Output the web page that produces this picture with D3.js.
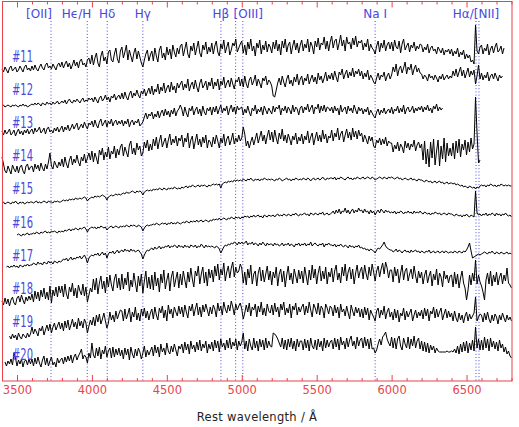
<!DOCTYPE html>
<html>
<head>
<meta charset="utf-8">
<script src="https://cdn.jsdelivr.net/npm/d3@7"></script>
<style>
  html, body { margin: 0; padding: 0; background: #fff; }
  svg { display: block; }
</style>
</head>
<body>
<div id="chart"></div>
<script>
const waveStep = 10
const spectrumNames = ['#11', '#12', '#13', '#14', '#15', '#16', '#17', '#18', '#19', '#20']
const startWave = [3400, 3400, 3400, 3400, 3400, 3500, 3430, 3400, 3450, 3420]
const fluxOffset = [311, 275, 248, 213, 178, 146, 114, 79, 44, 18]

const flux11 = [
  1,-2,3,0,-3,2,4,-1,1,3,-2,0,4,1,-2,3,5,0,2,-1,
  4,0,5,1,-1,3,6,2,0,5,7,2,4,1,6,3,0,5,7,3,
  8,2,6,9,3,7,1,5,10,4,8,2,9,11,5,7,3,10,12,6,
  15,5,12,17,7,3,14,19,9,13,6,18,20,10,8,16,22,11,7,19,
  23,12,18,25,10,20,14,8,17,22,11,19,13,7,3,10,16,20,9,15,
  19,9,22,14,8,20,24,12,17,10,23,15,21,11,25,18,13,22,16,24,
  26,14,21,28,16,12,24,19,27,15,22,29,17,13,25,20,28,16,23,18,
  27,16,24,29,18,14,26,21,30,17,23,28,15,20,27,24,31,18,22,26,
  29,17,25,15,28,21,31,19,24,14,27,22,30,16,25,20,29,18,26,23,
  17,28,21,30,19,26,15,29,22,31,18,25,28,16,24,30,20,27,17,25,
  30,19,26,22,31,18,28,24,16,29,23,32,20,27,25,33,21,29,19,28,
  34,22,29,31,20,27,35,24,30,19,33,26,28,21,32,25,34,23,29,27,
  30,20,27,23,31,19,26,22,20,16,24,29,18,27,22,30,19,25,28,21,
  28,19,30,23,21,29,17,26,31,20,24,27,18,25,22,28,19,24,21,26,
  25,18,23,20,26,17,22,24,19,21,16,23,20,17,22,15,20,18,21,16,
  21,14,19,16,22,13,18,15,20,11,16,12,15,8,10,6,45,19,16,23,
  25,16,22,19,26,15,21,24,17,23,27,18,20,24,16,22
]
const flux12 = [
  0,1,-1,0,1,0,-1,1,0,1,0,-1,1,0,2,0,1,-1,0,1,
  2,1,3,1,3,2,0,3,2,1,4,2,3,1,4,2,3,5,2,3,
  5,3,6,2,5,7,4,3,6,4,7,5,3,6,8,4,6,5,8,6,
  8,4,9,6,3,8,10,5,7,11,6,9,4,10,8,12,6,9,11,7,
  13,7,14,9,6,12,15,8,13,10,16,11,8,15,12,17,10,14,18,12,
  20,11,17,14,22,12,19,15,23,13,18,21,14,24,16,20,13,23,18,22,
  25,16,22,18,27,15,21,24,17,26,19,14,23,27,18,21,25,16,24,20,
  28,17,24,20,27,16,25,21,29,18,23,26,19,28,22,17,26,24,29,20,
  27,19,30,22,18,26,29,21,25,31,20,27,23,18,28,25,30,21,26,24,
  20,10,9,16,23,28,21,30,24,19,27,31,22,26,20,29,24,32,21,27,
  30,21,28,25,32,22,27,31,24,29,22,33,26,30,23,28,34,25,31,27,
  33,26,35,29,24,34,31,37,27,32,36,28,34,30,38,29,35,32,37,30,
  35,27,33,29,36,26,31,28,24,22,28,33,26,31,29,34,25,30,33,27,
  31,39,34,42,30,37,40,33,38,44,32,39,36,42,31,37,41,34,38,33,
  32,27,31,29,25,32,28,30,26,31,28,24,30,27,32,26,29,31,27,30,
  28,35,30,37,29,34,39,30,36,28,33,38,29,35,31,36,22,30,41,27,
  33,26,31,28,34,25,30,32,27,33,29,25,31,28,30
]
const flux13 = [
  2,-2,3,-1,1,4,-2,0,3,-3,1,4,-1,2,-2,3,0,4,-1,2,
  4,-1,5,1,3,6,0,2,5,-1,4,6,1,3,0,5,2,6,1,4,
  7,1,6,3,8,2,5,9,4,7,10,3,6,9,5,11,7,4,10,8,
  12,6,13,8,5,11,14,7,10,13,6,12,9,14,7,11,13,8,12,9,
  13,7,12,9,14,6,11,13,8,12,10,14,7,9,11,16,20,14,19,17,
  21,14,19,16,22,15,20,23,17,24,18,22,16,23,19,25,17,22,24,28,
  24,17,26,20,16,25,22,27,18,23,26,19,24,17,27,21,18,25,22,26,
  18,26,21,27,19,24,28,20,25,22,27,18,24,28,21,26,19,27,23,25,
  26,18,24,20,27,21,17,25,22,28,19,24,21,26,18,27,23,19,25,22,
  19,27,21,26,24,28,18,25,22,27,20,26,23,19,28,21,26,24,18,25,
  27,20,26,23,29,21,25,28,19,26,24,29,20,27,22,28,21,26,25,22,
  26,20,27,22,25,18,28,21,24,26,19,27,22,25,20,28,23,19,26,22,
  25,19,24,21,26,18,23,20,17,15,21,24,18,23,20,25,19,22,24,20,
  26,19,24,22,27,20,25,21,28,19,24,26,21,23,27,20,25,22,26,23,
  27,21,26,23,28,22,25,20,27,24,29,22,26,23,25
]
const flux14 = [
  11,4,-3,-5,2,-2,-6,3,-1,-4,2,-5,1,3,-3,-6,2,4,-2,1,
  2,-4,4,-1,3,-3,5,0,-3,4,-1,6,15,2,-1,7,3,0,6,2,
  9,1,11,4,0,8,12,3,9,5,13,6,2,11,7,14,5,10,15,8,
  17,6,15,10,4,18,13,20,8,16,11,21,9,17,14,22,10,19,13,21,
  24,12,21,16,11,23,27,14,20,13,25,18,22,12,15,26,20,28,17,24,
  18,29,22,31,19,27,33,21,26,30,20,28,34,23,29,25,32,22,30,27,
  33,21,30,26,35,20,28,32,19,27,34,23,29,21,31,25,33,20,28,26,
  21,31,24,33,27,20,30,25,34,22,29,32,23,28,35,24,30,26,33,27,
  30,41,34,22,27,20,26,31,23,29,35,25,31,37,27,33,24,32,38,28,
  36,26,38,30,24,35,29,39,27,33,25,34,29,23,32,28,35,24,31,27,
  34,24,32,28,37,25,31,35,23,30,36,27,33,26,38,29,34,25,32,30,
  38,27,35,31,40,28,34,37,26,33,39,30,36,28,40,31,37,29,38,32,
  35,26,33,29,24,32,27,31,22,20,28,25,30,23,29,24,31,22,27,25,
  25,16,23,19,26,17,24,21,15,27,20,25,18,24,21,28,17,23,26,20,
  24,8,27,4,19,1,26,10,29,3,17,28,2,22,9,30,6,25,12,20,
  12,25,9,27,15,29,11,24,18,28,13,26,16,30,19,24,71,35,5,8
]
const flux15 = [
  0,1,-1,0,1,0,-1,1,0,2,0,-1,1,0,1,-1,0,1,0,1,
  1,0,1,2,0,1,0,1,2,1,0,2,1,1,0,2,1,2,1,1,
  2,3,2,3,2,4,3,4,3,5,4,4,5,4,5,6,5,2,4,5,
  6,5,7,6,7,6,7,8,7,6,3,6,7,8,7,8,9,8,9,8,
  9,10,9,11,10,10,11,12,11,10,12,11,12,11,8,11,12,13,12,13,
  12,14,13,14,13,15,14,13,15,14,13,15,14,15,14,16,15,14,15,14,
  16,15,16,17,15,17,16,18,17,16,17,18,16,18,17,18,17,16,18,17,
  18,19,18,19,18,19,15,19,20,21,20,22,21,22,21,23,22,23,22,23,
  22,24,23,22,24,23,25,23,22,24,23,24,22,24,23,25,24,23,24,23,
  24,23,22,24,23,25,24,22,23,24,25,23,24,22,24,23,25,24,23,24,
  23,25,24,23,25,24,22,24,25,23,24,25,23,24,26,24,23,25,24,25,
  25,24,26,23,25,24,26,25,24,23,25,26,24,25,23,25,24,26,25,24,
  25,26,24,25,26,25,24,26,25,23,24,25,26,25,24,26,25,24,26,25,
  26,25,24,25,26,24,25,23,24,25,24,23,24,25,23,24,23,22,24,23,
  23,22,21,23,22,21,22,20,21,22,20,21,22,20,21,19,20,21,19,20,
  20,19,20,18,19,18,17,18,16,17,16,15,17,16,15,16,14,16,15,17,
  18,17,18,16,18,17,19,18,17,18,16,18,17,19,18,17,18,17,18,17,
  17
]
const flux16 = [
  0,1,0,-1,1,0,1,2,0,1,
  1,2,1,3,2,1,3,2,3,4,2,3,2,4,3,4,3,2,4,3,
  4,3,5,4,5,6,4,6,5,7,6,5,7,6,7,8,6,3,6,7,
  8,7,8,6,8,7,9,8,7,8,5,7,8,9,7,8,9,8,7,9,
  8,9,8,10,9,8,10,9,10,9,8,10,9,8,4,7,9,10,9,10,
  10,11,10,12,11,10,11,12,11,12,10,12,11,13,11,12,11,13,12,11,
  12,13,12,14,13,12,14,13,14,13,15,13,14,15,13,14,15,14,13,15,
  14,16,15,16,15,17,15,16,17,16,15,17,16,18,17,16,18,17,18,16,
  18,17,19,18,19,17,19,18,20,18,19,20,18,19,17,20,19,18,20,19,
  19,20,18,20,21,19,20,19,21,20,19,21,20,19,21,20,22,20,19,21,
  20,21,22,20,21,19,22,21,20,22,21,20,22,21,23,20,21,22,20,21,
  22,24,21,25,22,26,21,24,23,27,22,25,21,24,26,22,25,23,27,24,
  25,22,26,23,24,21,25,22,24,20,23,25,22,26,24,22,25,23,24,22,
  23,22,24,21,23,22,24,23,21,23,22,24,22,23,21,24,22,23,22,24,
  22,21,23,22,21,22,20,22,21,23,22,21,22,20,21,22,21,20,22,21,
  21,20,19,21,20,19,20,18,20,19,21,19,18,20,19,18,44,22,20,21,
  19,21,20,22,19,21,20,22,21,19,22,20,21,19,21,20,22,20,19,20,
  18
]
const flux17 = [
  0,1,-1,1,0,2,0,1,-1,2,1,0,2,1,3,1,2,
  2,4,3,2,5,3,4,2,5,4,3,6,4,5,3,6,5,4,6,5,
  6,8,7,9,6,8,10,7,9,8,10,9,11,8,10,12,9,4,9,11,
  12,11,13,12,14,11,13,15,12,14,9,13,15,14,16,13,15,17,14,16,
  17,15,18,16,17,15,18,16,17,15,16,17,15,13,8,12,15,17,16,18,
  19,17,20,18,19,21,18,20,19,21,20,22,19,21,20,22,21,19,22,20,
  21,19,22,20,21,19,22,21,20,22,19,21,20,23,21,19,22,20,21,20,
  21,20,19,21,20,18,14,17,20,22,21,23,22,24,23,25,24,22,25,23,
  25,23,24,26,22,24,23,25,22,24,23,21,24,22,25,23,21,24,22,23,
  23,21,24,22,23,21,22,24,21,23,22,24,21,23,22,20,23,22,24,21,
  23,22,24,21,23,22,25,21,23,24,22,21,23,22,24,20,23,22,24,22,
  22,21,23,20,22,21,23,21,20,22,21,19,22,20,21,19,21,20,22,19,
  20,18,19,17,18,16,18,17,16,14,17,19,18,20,22,25,21,19,18,17,
  17,15,16,18,15,17,16,14,16,17,15,16,14,17,15,16,17,15,16,14,
  16,15,14,16,15,17,14,15,16,14,15,16,14,15,16,14,16,15,14,15,
  15,14,16,15,14,16,15,14,16,15,17,20,24,16,9,10,11,12,13,12,
  13,14,15,14,13,15,14,16,14,13,15,14,13,15,14,13,14,15,13,14,
  13
]
const flux18 = [
  1,-3,4,-2,3,-4,2,5,-1,-3,4,6,0,7,2,-2,5,1,6,2,
  8,0,11,3,10,1,12,5,14,3,10,2,16,-1,12,6,15,5,16,9,
  16,5,18,8,3,15,10,19,6,14,4,17,11,7,18,6,15,0,7,14,
  10,23,12,24,8,19,26,13,21,9,25,15,27,17,11,23,28,14,24,12,
  28,13,24,17,30,11,22,15,29,19,10,26,16,28,9,21,31,14,25,13,
  27,12,30,16,24,10,28,19,32,13,22,29,11,25,31,15,23,30,14,28,
  17,31,22,14,30,20,34,23,15,31,26,36,18,28,35,19,30,16,33,24,
  32,20,36,26,38,22,33,27,39,21,30,36,24,34,40,25,35,29,31,38,
  34,19,30,17,33,24,37,18,28,31,16,29,35,21,32,20,28,36,22,31,
  17,30,24,35,16,28,33,20,31,15,27,36,22,29,18,33,26,19,32,23,
  31,19,35,26,17,32,22,37,24,33,18,29,36,21,31,23,35,18,30,25,
  34,20,31,37,22,29,19,35,26,38,21,30,35,23,33,18,29,37,24,31,
  35,23,37,28,22,35,26,38,30,21,31,36,25,33,39,28,40,34,24,32,
  32,20,35,26,33,19,29,37,22,31,34,21,28,33,23,36,26,19,31,24,
  30,18,27,32,19,26,31,16,28,22,33,17,29,25,15,31,23,27,19,26,
  27,15,30,18,28,14,24,31,19,14,2,12,27,17,29,21,42,18,27,20,
  16,10,2,22,29,18,31,16,27,20,30,17,25,29,18,27,21,34,19,17,
  14
]
const flux19 = [
  1,-2,3,-1,2,-3,4,0,-2,3,1,-1,4,0,3,
  10,3,8,5,1,9,6,11,2,7,12,6,13,4,10,14,7,11,15,8,
  14,6,16,9,17,7,12,18,10,15,8,19,11,16,9,18,14,4,11,17,
  12,20,11,22,15,23,13,18,24,16,9,14,25,17,22,15,26,18,23,27,
  26,16,28,18,23,29,15,25,20,30,17,24,16,28,21,29,19,26,17,24,
  28,18,30,22,17,29,24,31,19,27,16,32,23,28,19,30,25,21,31,23,
  30,20,32,25,19,31,26,33,21,28,34,22,30,20,32,25,33,27,21,30,
  23,32,28,20,34,26,31,22,35,28,24,32,26,36,30,22,33,27,31,34,
  28,18,24,32,25,34,21,30,27,33,20,31,25,35,22,29,21,33,26,24,
  32,22,34,25,30,20,33,27,35,22,29,24,33,19,31,27,34,22,30,25,
  30,33,22,31,24,35,27,20,33,29,23,34,22,31,28,19,33,29,23,31,
  29,21,32,24,30,19,33,25,28,21,31,24,18,32,26,21,30,24,29,20,
  28,19,30,22,29,17,27,23,20,16,26,29,19,27,22,31,18,25,29,20,
  25,17,28,19,27,15,24,21,29,17,26,20,24,28,16,22,27,19,25,21,
  27,18,29,21,28,16,26,23,30,19,28,20,25,29,17,23,28,19,26,20,
  24,16,26,19,15,24,17,22,14,21,25,16,23,18,21,24,40,16,20,23,
  22,15,24,17,25,18,14,22,16,23,20,13,22,17,24,19,15,22,17,20,
  16
]
const flux20 = [
  1,-3,2,-1,4,-2,10,5,-3,3,-1,4,-4,2,3,-2,4,-1,
  4,-3,5,-1,6,0,-4,3,7,-2,5,-3,2,6,-2,1,-4,5,0,3,
  5,-1,6,1,7,2,8,0,6,9,3,7,10,14,4,8,6,0,10,5,
  20,8,5,15,7,16,4,13,9,17,6,12,15,5,16,6,14,8,15,7,
  13,4,15,8,14,3,16,9,5,14,7,15,11,4,10,17,6,13,8,12,
  16,7,18,10,16,6,19,11,15,8,20,12,9,17,11,19,13,7,17,14,
  19,10,21,13,19,9,22,14,18,11,21,13,23,12,19,15,22,10,19,14,
  21,12,23,15,22,11,24,16,20,13,23,15,25,14,21,17,24,13,22,17,
  21,30,14,22,12,24,17,13,25,15,22,12,24,16,23,13,25,15,22,17,
  16,30,29,27,24,20,16,25,14,23,13,24,16,25,14,22,12,24,16,22,
  22,13,24,15,23,12,25,17,14,23,13,24,16,22,12,25,15,23,16,21,
  23,14,25,16,24,13,26,18,22,14,25,16,23,27,17,22,14,26,17,23,
  25,15,26,17,24,14,25,14,15,10,13,19,24,18,26,28,31,24,20,17,
  26,15,25,14,24,27,17,13,25,19,15,26,14,24,17,27,15,22,25,14,
  22,12,21,11,20,10,18,13,17,10,15,12,11,11,11,11,11,12,11,11,
  12,11,14,10,17,9,19,11,21,12,22,10,20,13,23,12,36,15,24,13,
  23,13,26,15,24,12,25,16,22,14,21,12,23,15,19,11,16,9,12,7,
  5
]
const fluxList = [flux11, flux12, flux13, flux14, flux15, flux16, flux17, flux18, flux19, flux20]

// marked spectral features
const featureWave = [3727, 3969, 4102, 4340, 4861, 4959, 5007, 5890, 6563, 6583]
const labelText = ['[OII]', 'H\u03f5/H', 'H\u03b4', 'H\u03b3', 'H\u03b2', '[OIII]', 'Na I', 'H\u03b1/[NII]']
const labelWave = [3727, 3969, 4102, 4340, 4861, 4959, 5890, 6563]

const majorTicks = [3500, 4000, 4500, 5000, 5500, 6000, 6500]

const width = 519
const height = 427
const red = '#e8434b'
const blue = '#4848e0'
// label placement relative to its feature line
const labelAnchor = ['end', 'end', 'middle', 'middle', 'middle', 'start', 'middle', 'middle']
const labelDx = [1, 4, 0, 0, 0, -2, 0, 0]

const svg = d3.select('#chart').append('svg')
    .attr('width', width)
    .attr('height', height)
    .attr('viewBox', `0 0 ${width} ${height}`)

const x = d3.scaleLinear().domain([3400, 6800]).range([2, 511.5])
const y = d3.scaleLinear().domain([0, 380]).range([381, 1])

// feature lines
svg.append('g')
    .selectAll('line')
    .data(featureWave)
    .join('line')
    .attr('x1', d => x(d)).attr('x2', d => x(d))
    .attr('y1', 21).attr('y2', y(0))
    .attr('stroke', blue)
    .attr('stroke-width', 1)
    .attr('stroke-dasharray', '1,2.2')

svg.append('g')
    .selectAll('text')
    .data(labelText)
    .join('text')
    .attr('x', (d, i) => x(labelWave[i]) + labelDx[i])
    .attr('y', 18)
    .attr('text-anchor', (d, i) => labelAnchor[i])
    .attr('font-family', 'DejaVu Sans, sans-serif')
    .attr('font-size', 12)
    .attr('fill', blue)
    .text(d => d)

// spectra
const line = d3.line()
    .x(d => x(d.w))
    .y(d => y(d.f))

svg.append('g')
    .selectAll('path')
    .data(fluxList.map((v, k) => v.map((f, i) => ({w: startWave[k] + i * waveStep, f: fluxOffset[k] + f}))))
    .join('path')
    .attr('d', line)
    .attr('fill', 'none')
    .attr('stroke', '#000')
    .attr('stroke-width', 1)
    .attr('stroke-linejoin', 'round')

const labelY = d3.scaleLinear().domain([0, 9]).range([62, 360])
svg.append('g')
    .selectAll('text')
    .data(spectrumNames)
    .join('text')
    .attr('x', 12)
    .attr('y', (d, i) => labelY(i))
    .attr('font-family', 'DejaVu Sans, sans-serif')
    .attr('font-size', 15)
    .attr('textLength', 21)
    .attr('lengthAdjust', 'spacingAndGlyphs')
    .attr('fill', blue)
    .text(d => d)

// axes: frame + ticks top and bottom
const minorTicks = d3.range(3400, 6801, 100).filter(v => v % 500 !== 0)
const addTicks = (axis, ty) => {
    const g = svg.append('g').attr('transform', `translate(0,${ty})`).call(axis)
    g.select('.domain').remove()
    g.selectAll('.tick line').attr('stroke', red)
    return g
}
const bottom = addTicks(d3.axisBottom(x).tickValues(majorTicks).tickSize(-6).tickPadding(5).tickFormat(d3.format('d')), y(0))
bottom.selectAll('.tick text')
    .attr('fill', red)
    .attr('font-family', 'DejaVu Sans, sans-serif')
    .attr('font-size', 11.5)
addTicks(d3.axisBottom(x).tickValues(minorTicks).tickSize(-3).tickFormat(''), y(0))
addTicks(d3.axisTop(x).tickValues(majorTicks).tickSize(-6).tickFormat(''), 1.5)
addTicks(d3.axisTop(x).tickValues(minorTicks).tickSize(-3).tickFormat(''), 1.5)

svg.append('rect')
    .attr('x', x(3400) + 0.5).attr('y', 1.5)
    .attr('width', x(6800) - x(3400))
    .attr('height', y(0) - 1.5)
    .attr('fill', 'none')
    .attr('stroke', red)
    .attr('stroke-width', 1)

svg.append('text')
    .attr('x', 257)
    .attr('y', 421)
    .attr('text-anchor', 'middle')
    .attr('font-family', 'DejaVu Sans, sans-serif')
    .attr('font-size', 11.5)
    .attr('letter-spacing', 0.3)
    .attr('fill', '#222')
    .text('Rest wavelength / \u00c5')
</script>
</body>
</html>
